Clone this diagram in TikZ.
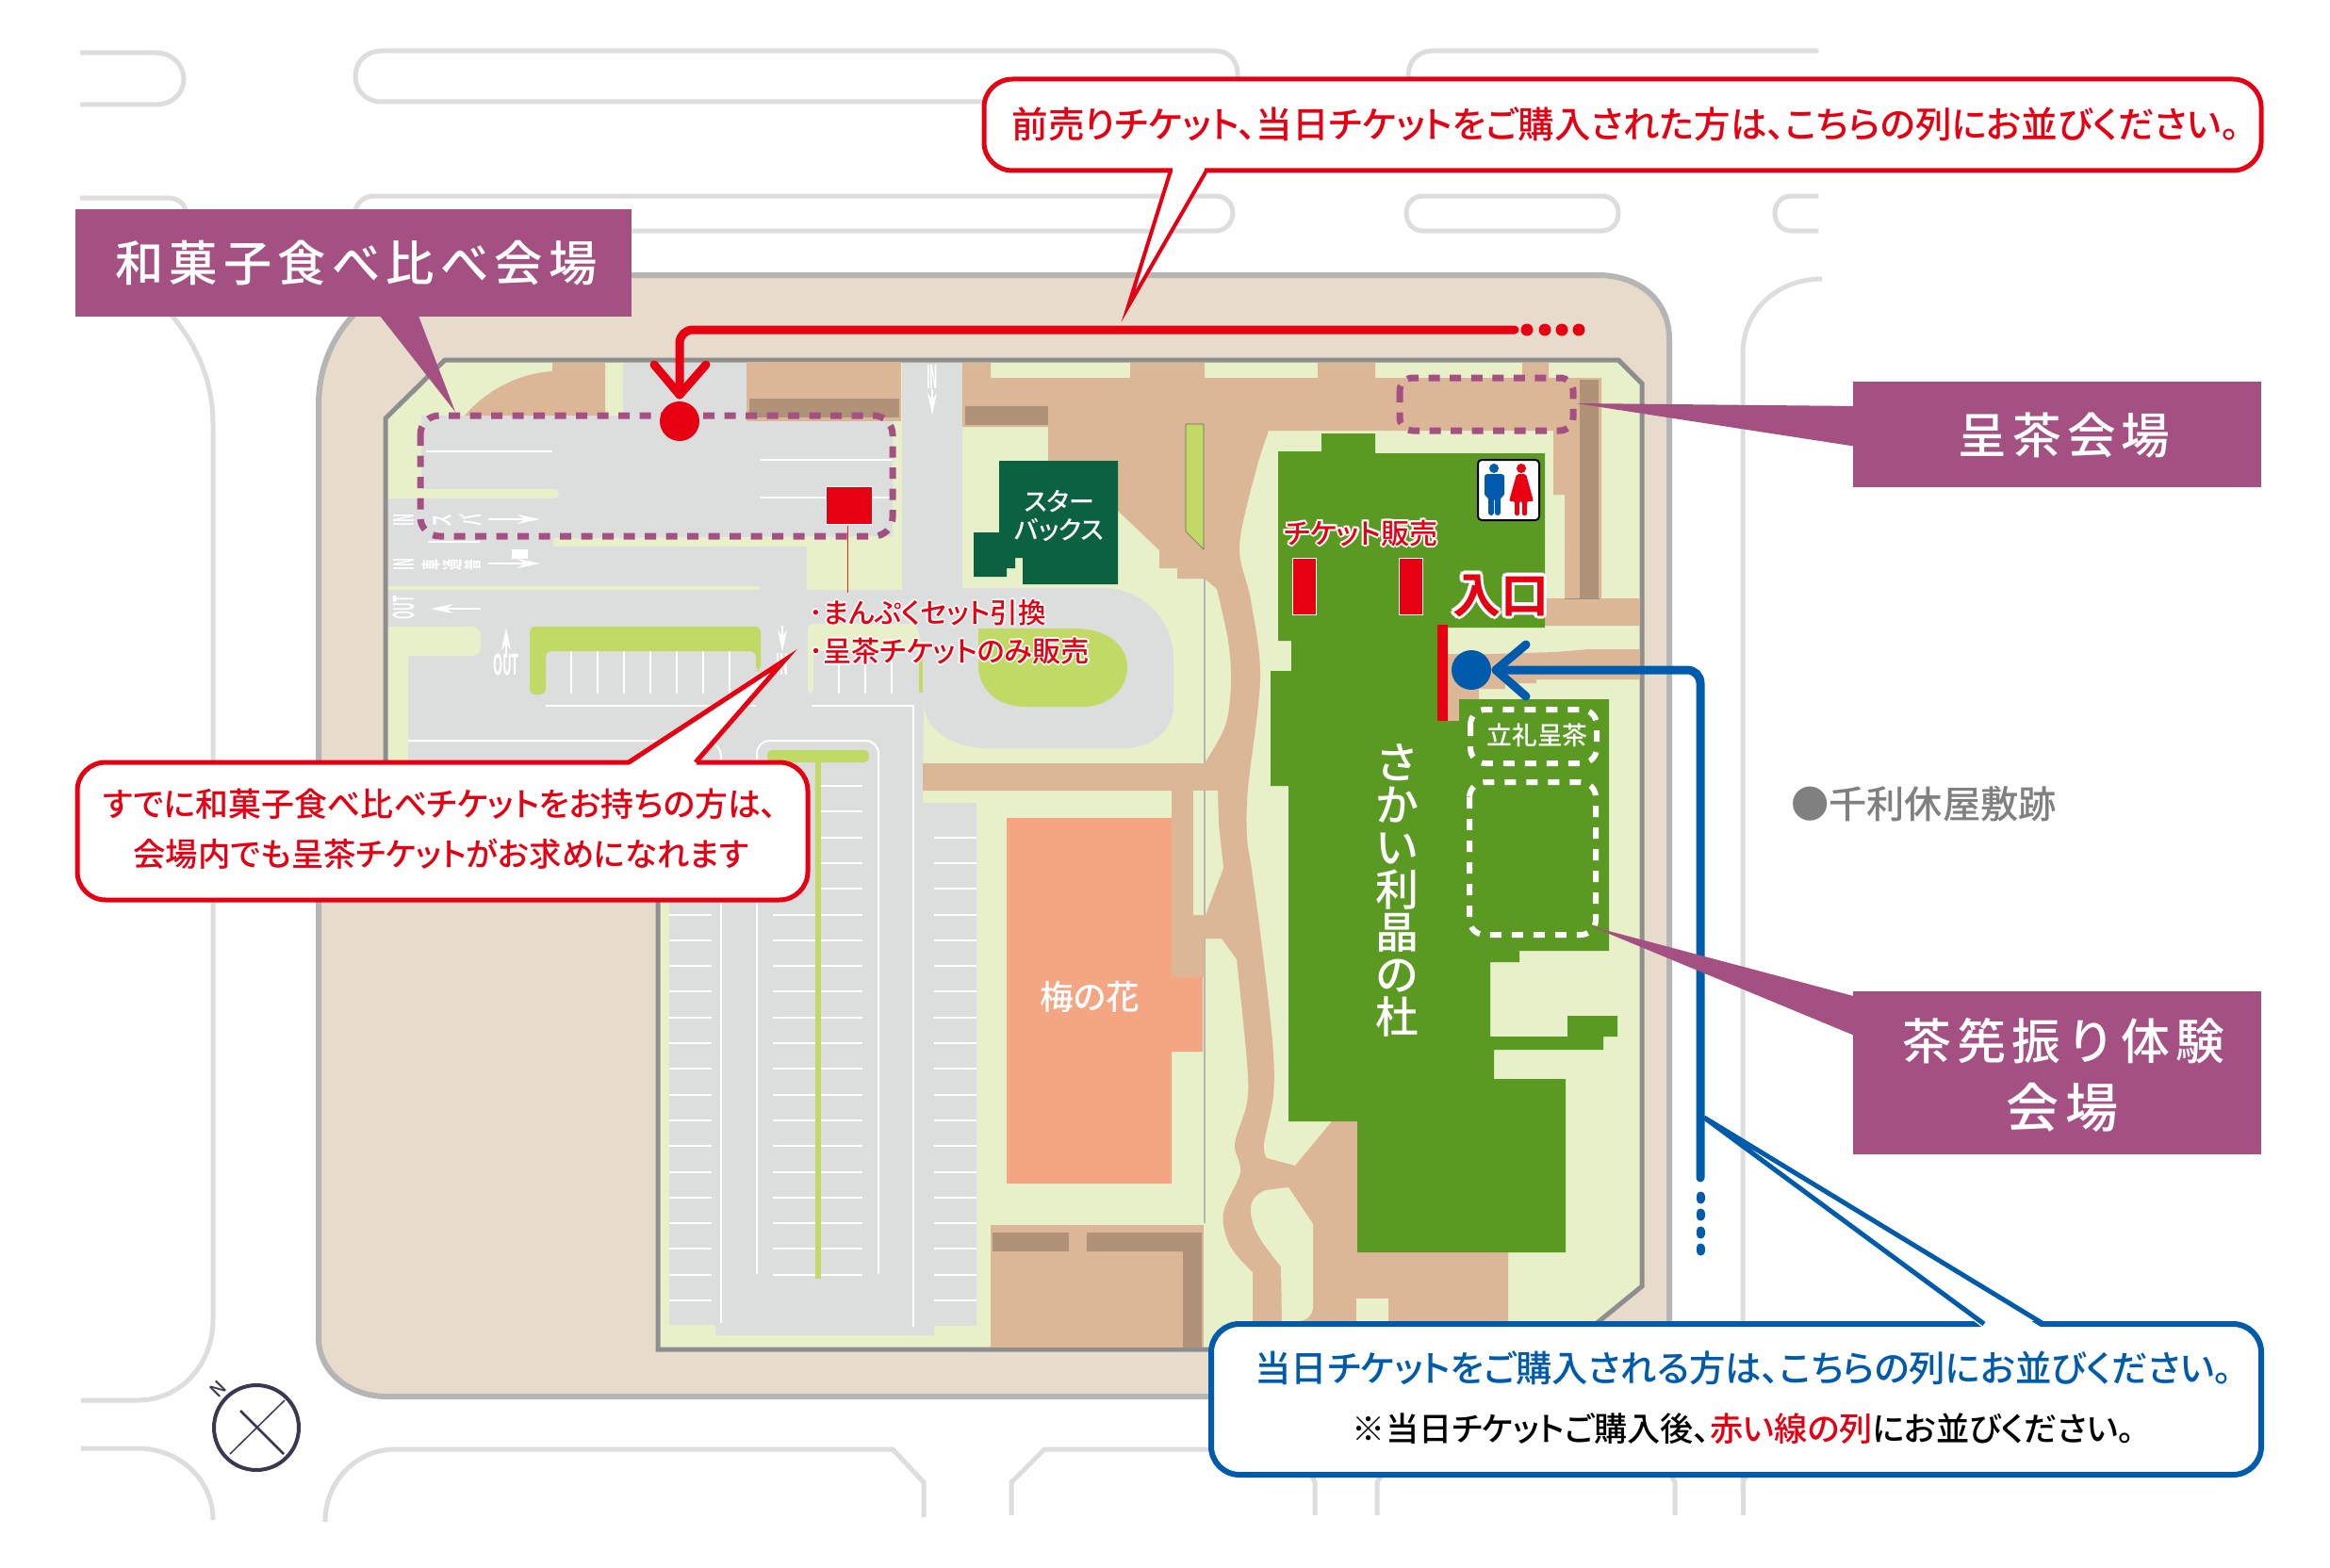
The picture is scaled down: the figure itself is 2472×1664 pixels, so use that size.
\documentclass[tikz,border=0pt]{standalone}
\usepackage{fontspec}
\usetikzlibrary{arrows.meta}
\setmainfont{Noto Sans CJK JP Medium}[RawFeature={+palt},BoldFont={Noto Sans CJK JP Bold}]
\newfontfamily\jpf{Noto Sans CJK JP Medium}
\newfontfamily\jpw{Noto Sans CJK JP Medium}[LetterSpace=12]
\definecolor{beige}{HTML}{E7DBCB}
\definecolor{outerg}{HTML}{B5B5B5}
\definecolor{siteg}{HTML}{8E8E8E}
\definecolor{lgreen}{HTML}{E8F0C9}
\definecolor{road}{HTML}{DCDDDD}
\definecolor{tan}{HTML}{DCB797}
\definecolor{dtan}{HTML}{AF9278}
\definecolor{bgreen}{HTML}{C1DA66}
\definecolor{bldg}{HTML}{5B9A22}
\definecolor{sbux}{HTML}{0B6241}
\definecolor{ume}{HTML}{F4A582}
\definecolor{rd}{HTML}{E60012}
\definecolor{bl}{HTML}{005BAC}
\definecolor{pur}{HTML}{A55083}
\definecolor{ctx}{HTML}{DDDDDD}
\definecolor{cmp}{HTML}{3A3850}
\newcommand\tw[3]{\resizebox{#1pt}{!}{\fontsize{#2}{#2}\selectfont #3}}
\newcommand\wh[3]{\resizebox*{#1pt}{#2pt}{\fontsize{24}{24}\selectfont\bfseries #3}}
\newcommand\cpy[3]{\rlap{\hspace*{#1}\raisebox{#2}{#3}}}
\newcommand\olt[2]{\mbox{\textcolor{white}{%
 \cpy{-#1pt}{0pt}{#2}\cpy{#1pt}{0pt}{#2}\cpy{0pt}{-#1pt}{#2}\cpy{0pt}{#1pt}{#2}%
 \cpy{\dimexpr-#1pt*7/10\relax}{\dimexpr-#1pt*7/10\relax}{#2}%
 \cpy{\dimexpr#1pt*7/10\relax}{\dimexpr-#1pt*7/10\relax}{#2}%
 \cpy{\dimexpr-#1pt*7/10\relax}{\dimexpr#1pt*7/10\relax}{#2}%
 \cpy{\dimexpr#1pt*7/10\relax}{\dimexpr#1pt*7/10\relax}{#2}}#2}}
\tikzset{
 ctxline/.style={draw=ctx,line width=5pt},
 wl/.style={draw=white,line width=2pt},
 paint/.style={text=white,inner sep=0pt},
 wa/.style={draw=white,line width=2.5pt,-{Stealth[length=24pt,width=10pt]}},
 txt/.style={inner sep=0pt},
 purbox/.style={fill=pur,draw=none},
 pdash/.style={draw=pur,line width=7pt,dash pattern=on 12pt off 10.5pt,rounded corners=20pt},
 wdash/.style={draw=white,line width=6pt,dash pattern=on 12pt off 11pt,rounded corners=16pt},
 redcall/.style={draw=rd,line width=5pt,fill=white,rounded corners=30pt},
 bluecall/.style={draw=bl,line width=6pt,fill=white,rounded corners=30pt},
 redroute/.style={draw=rd,line width=9pt,line cap=round,line join=round},
 blueroute/.style={draw=bl,line width=9pt,line cap=round,line join=round},
}
\begin{document}
\begin{tikzpicture}[x=1pt,y=-1pt]
\useasboundingbox (0,0) rectangle (2472,1664);
\fill[white] (0,0) rectangle (2472,1664);
% surrounding roads
\draw[ctxline] (85,56) -- (165,56) .. controls (184,56) and (195,70) .. (195,84) .. controls (195,98) and (184,111) .. (165,111) -- (85,111);
\draw[ctxline] (1313,90) -- (1313,78) .. controls (1313,64) and (1303,54) .. (1290,54) -- (405,54) .. controls (388,54) and (377,66) .. (377,81) .. controls (377,96) and (388,108) .. (405,108) -- (1050,108);
\draw[ctxline] (1494,90) -- (1494,80) .. controls (1494,65) and (1505,54) .. (1519,54) -- (1929,54);
\draw[ctxline] (85,210) -- (178,210) .. controls (188,210) and (197,216) .. (197,226);
\draw[ctxline] (377,226) .. controls (377,216) and (386,208) .. (397,208) -- (1290,208) .. controls (1300,208) and (1308,216) .. (1308,226) .. controls (1308,236) and (1300,245) .. (1290,245) -- (660,245);
\draw[ctxline] (1510,208) -- (1699,208) .. controls (1710,208) and (1717,216) .. (1717,226) .. controls (1717,237) and (1710,245) .. (1699,245) -- (1510,245) .. controls (1499,245) and (1492,237) .. (1492,226) .. controls (1492,216) and (1499,208) .. (1510,208) -- cycle;
\draw[ctxline] (1929,208) -- (1901,208) .. controls (1890,208) and (1883,216) .. (1883,226) .. controls (1883,237) and (1890,245) .. (1901,245) -- (1929,245);
\draw[ctxline] (178,330) .. controls (205,360) and (226,400) .. (226,450) -- (226,1400) .. controls (226,1450) and (190,1486) .. (146,1486) -- (86,1486);
\draw[ctxline] (1933,296) .. controls (1885,296) and (1849,330) .. (1849,375) -- (1849,1573) -- (1856,1560);
\draw[ctxline] (86,1537) -- (146,1537) .. controls (190,1537) and (226,1570) .. (226,1613);
\draw[ctxline] (345,1615) .. controls (345,1570) and (380,1538) .. (419,1538) -- (947,1538) -- (980,1573) -- (980,1610);
\draw[ctxline] (1073,1608) -- (1073,1573) -- (1108,1538) -- (1300,1538);
\draw[ctxline] (1395,1608) -- (1395,1573) -- (1389,1560);
\draw[ctxline] (1461,1608) -- (1461,1573) -- (1469,1560);
\draw[ctxline] (1777,1608) -- (1777,1573) -- (1770,1560);
\draw[ctxline] (1849,1608) -- (1849,1560);
% sidewalk
\draw[fill=beige,draw=outerg,line width=6pt] (475,292) -- (1695,292) .. controls (1738,292) and (1771,318) .. (1771,360) -- (1771,1420) .. controls (1771,1455) and (1740,1482) .. (1700,1482) -- (410,1482) .. controls (370,1482) and (338,1455) .. (338,1420) -- (338,430) .. controls (338,350) and (400,292) .. (475,292) -- cycle;
% site
\draw[fill=lgreen,draw=siteg,line width=5pt] (472,382) -- (1717,382) -- (1742,407) -- (1742,1365) -- (1660,1432) -- (698,1432) -- (698,900) -- (409,900) -- (409,444) -- cycle;
% roads
\fill[road] (447,441) -- (661,441) -- (661,385) -- (792,385) -- (792,447) -- (947,447) -- (947,569) -- (587,571) -- (587,580) -- (856,580) -- (856,626) -- (957,626) -- (957,385) -- (1021,385) -- (1021,624) -- (1168,624) .. controls (1215,624) and (1245,660) .. (1245,700) -- (1245,750) .. controls (1245,775) and (1220,794) .. (1194,794) -- (1050,794) .. controls (1010,794) and (980,775) .. (980,744) -- (979,852) -- (1036,852) -- (1036,1407) -- (991,1407) -- (991,1417) -- (759,1417) -- (759,1406) -- (710,1406) -- (710,890) -- (412,890) -- (412,529) -- (447,529) -- cycle;
\fill[lgreen,rounded corners=5pt] (454,519) -- (593,519) -- (593,529) -- (440,529) -- (440,519) -- cycle;
\fill[lgreen] (412,622) rectangle (806,626);
\fill[lgreen] (412,665) -- (500,665) .. controls (506,665) and (510,669) .. (510,675) -- (510,688) .. controls (510,692) and (506,696) .. (500,696) -- (433,696) -- (433,890) -- (412,890) -- cycle;
\fill[lgreen,rounded corners=6pt] (857,737) -- (857,662) -- (972,662) -- (980,690) -- (863,691) -- (863,737) -- cycle;
\fill[bgreen] (975,691) rectangle (979,735);
\fill[bgreen,rounded corners=6pt] (579,737) -- (562,737) -- (562,665) -- (807,665) -- (807,712) -- (802,712) -- (802,691) -- (579,691) -- cycle;
\fill[bgreen] (1038,667) -- (1140,667) .. controls (1175,667) and (1196,685) .. (1196,708) .. controls (1196,732) and (1175,750) .. (1150,750) -- (1090,750) .. controls (1055,750) and (1038,730) .. (1038,705) -- cycle;
\fill[bgreen,rounded corners=5pt] (814,809) -- (814,796) -- (922,796) -- (922,809) -- cycle;
\fill[bgreen] (865,805) rectangle (871,1357);
% road lines
\foreach \x in {606,634,662,690,718,746,774,890,918,946}{\draw[wl] (\x,691) -- (\x,736);}
\draw[wl] (452,479) -- (586,479);
\draw[wl] (807,488) -- (947,488);
\draw[wl] (807,528) -- (947,528);
\draw[wl] (454,575) -- (509,575);
\draw[wl] (579,749) -- (802,749);
\draw[wl] (861,749) -- (969,749) -- (969,1408);
\draw[wl] (433,786) -- (745,786) .. controls (757,786) and (765,792) .. (765,804) -- (765,1404);
\draw[wl] (803,1352) -- (803,800) .. controls (803,792) and (809,786) .. (817,786) -- (918,786) .. controls (926,786) and (932,792) .. (932,800) -- (932,1352);
\foreach \i in {0,...,19}{\draw[wl] (871,834+27.3*\i) -- (915,834+27.3*\i);}
\foreach \i in {5,...,19}{\draw[wl] (820,834+27.3*\i) -- (865,834+27.3*\i);}
\foreach \i in {2,...,20}{\draw[wl] (991,834+27.3*\i) -- (1036,834+27.3*\i);}
\foreach \i in {5,...,20}{\draw[wl] (710,834+27.3*\i) -- (755,834+27.3*\i);}
% road paint
\node[paint,rotate=90] (inA) at (428,552) {\wh{13}{22}{IN}};
\node[paint,rotate=90] (busA) at (470,552) {\wh{13}{20}{ス}};
\node[paint,rotate=90] (busB) at (499,552) {\wh{13}{24}{バ}};
\coordinate (arAs) at (518,551); \coordinate (arAe) at (573,551);
\draw[wa] (arAs) -- (arAe);
\node[paint,rotate=90] (inB) at (428,599) {\wh{13}{22}{IN}};
\node[paint,rotate=90] (carA) at (457,599) {\wh{12}{20}{車}};
\node[paint,rotate=90] (carB) at (480,599) {\wh{12}{20}{通}};
\node[paint,rotate=90] (carC) at (501,599) {\wh{12}{18}{普}};
\coordinate (arBs) at (518,598); \coordinate (arBe) at (573,598);
\draw[wa] (arBs) -- (arBe);
\fill[white] (543,583) rectangle (560,593);
\node[paint,rotate=90] (outA) at (428,645) {\wh{25}{23}{OUT}};
\coordinate (arCs) at (510,646); \coordinate (arCe) at (457,646);
\draw[wa] (arCs) -- (arCe);
\coordinate (arDs) at (537,698); \coordinate (arDe) at (537,666);
\draw[wa] (arDs) -- (arDe);
\node[paint] (outB) at (537,705) {\wh{28}{23}{OUT}};
\coordinate (arEs) at (830,664); \coordinate (arEe) at (830,692);
\draw[wa] (arEs) -- (arEe);
\node[paint] (inC) at (830,705) {\wh{13}{23}{IN}};
\node[paint] (inD) at (989,400) {\wh{12}{25}{IN}};
\coordinate (arFs) at (989,413); \coordinate (arFe) at (989,441);
\draw[wa] (arFs) -- (arFe);
% thin divider lines
\draw[outerg,line width=2pt] (1278,614) -- (1278,1298);
% tan paths
\fill[tan] (586,385) -- (642,385) -- (642,441) -- (493,441) .. controls (515,415) and (550,396) .. (586,394) -- cycle;
\fill[tan] (792,384) rectangle (956,447);
\fill[dtan] (795,423) rectangle (954,443);
\fill[tan] (1021,385) -- (1051,385) -- (1051,401) -- (1199,401) -- (1199,385) -- (1278,385) -- (1278,401) -- (1398,401) -- (1398,385) -- (1459,385) -- (1459,401) -- (1615,401) -- (1615,385) -- (1643,385) -- (1643,401) -- (1699,401) -- (1699,635) -- (1740,635) -- (1740,664) -- (1639,664) -- (1639,635) -- (1660,635) -- (1660,525) -- (1648,525) -- (1648,457) -- (1346,457)
 -- plot[smooth,tension=0.55] coordinates {(1346,457) (1332,501) (1315,580) (1327,637) (1337,719) (1324,837) (1323,888) (1328,923) (1338,997) (1350,1105) (1351,1162) (1341,1214) (1344,1229)}
 -- (1374,1237) -- (1413,1190) -- (1440,1190) -- (1440,1329) -- (1600,1329) -- (1600,1425) -- (1329,1425) -- (1329,1350)
 -- plot[smooth,tension=0.55] coordinates {(1329,1350) (1305,1322) (1298,1287) (1316,1244) (1310,1214) (1323,1170) (1323,1127) (1312,1018)}
 -- (1296,996) -- (1278,996) -- (1278,1037) -- (1243,1037) -- (1243,839) -- (979,839) -- (979,810) -- (1278,810)
 -- plot[smooth,tension=0.55] coordinates {(1278,810) (1300,770) (1306,725) (1303,680) (1291,625)}
 -- (1278,614) -- (1249,614) -- (1249,603) -- (1230,603) -- (1230,584) -- (1186,542) -- (1112,489) -- (1112,453) -- (1021,453) -- cycle;
% islands in the paths
\fill[lgreen] (1266,839) -- (1292,839) -- (1293,875) -- (1298,921) -- (1279,971) -- (1266,971) -- cycle;
\draw[outerg,line width=2pt] (1278,839) -- (1278,971);
\fill[lgreen] (1343,1263) -- (1367,1260) -- (1393,1299) -- (1393,1387) .. controls (1393,1396) and (1385,1402) .. (1378,1402) -- (1360,1402) -- (1359,1344) .. controls (1340,1320) and (1327,1305) .. (1327,1283) .. controls (1327,1272) and (1335,1266) .. (1343,1263) -- cycle;
\fill[lgreen] (1439,1378) rectangle (1473,1430);
\fill[tan] (1536,694) -- (1582,694) -- (1650,692) -- (1686,689) -- (1740,689) -- (1740,721) -- (1630,721) -- (1630,725) -- (1597,725) -- (1597,731) -- (1569,731) -- (1569,742) -- (1548,742) -- (1548,770) -- (1536,770) -- cycle;
\fill[dtan] (1024,431) rectangle (1112,451);
\fill[dtan] (1676,403) rectangle (1696,635);
\draw[siteg,line width=1pt] (1660,635) -- (1697,635);
\draw[fill=bgreen,draw=black!60,line width=.6pt] (1258,450) -- (1277,450) -- (1277,583) -- (1258,564) -- cycle;
% bottom building
\fill[tan] (1051,1300) rectangle (1277,1430);
\fill[dtan] (1053,1308) rectangle (1134,1328);
\fill[dtan] (1153,1308) -- (1275,1308) -- (1275,1430) -- (1255,1430) -- (1255,1328) -- (1153,1328) -- cycle;
% ume no hana
\fill[ume] (1068,868) -- (1243,868) -- (1243,1037) -- (1276,1037) -- (1276,1116) -- (1243,1116) -- (1243,1256) -- (1068,1256) -- cycle;
\node[txt,text=white] (umeL) at (1156,1058) {\tw{106}{35}{梅の花}};
% starbucks
\fill[sbux] (1060,489) -- (1186,489) -- (1186,620) -- (1085,620) -- (1085,592) -- (1077,592) -- (1077,603) -- (1068,603) -- (1068,612) -- (1033,612) -- (1033,565) -- (1060,565) -- cycle;
\node[txt,text=white,align=center,font=\fontsize{27}{30}\selectfont] (sbuxL) at (1124,547) {スター\\バックス};
% main building
\fill[bldg] (1356,479) -- (1402,479) -- (1402,460) -- (1459,460) -- (1459,481) -- (1639,481) -- (1639,666) -- (1536,666) -- (1536,765) -- (1548,765) -- (1548,742) -- (1707,742) -- (1707,1009) -- (1612,1009) -- (1612,1021) -- (1581,1021) -- (1581,1100) -- (1663,1100) -- (1663,1078) -- (1716,1078) -- (1716,1100) -- (1701,1100) -- (1701,1114) -- (1585,1114) -- (1585,1145) -- (1661,1145) -- (1661,1329) -- (1440,1329) -- (1440,1190) -- (1367,1190) -- (1367,834) -- (1348,834) -- (1348,712) -- (1370,712) -- (1370,680) -- (1356,680) -- cycle;
\node[txt,text=white,align=center,font=\jpf\fontsize{46}{45}\selectfont] (bldgL) at (1482,945) {さ\\か\\い\\利\\晶\\の\\杜};
% ticket counters
\draw[fill=rd,draw=white,line width=1pt] (1371,592) rectangle (1396,652);
\draw[fill=rd,draw=white,line width=1pt] (1484,592) rectangle (1509,652);
\node[txt,text=rd] (ticketL) at (1444,566) {\tw{163}{28}{\olt{2}{チケット販売}}};
\node[txt,text=rd] (entryL) at (1592,632) {\tw{102}{50}{\olt{3}{\bfseries 入口}}};
\fill[rd] (1525,663) rectangle (1536,765);
% toilet icon
\draw[fill=white,draw=black,line width=2pt,rounded corners=4pt] (1568,488) rectangle (1633,552);
\fill[bl] (1585,497) circle (5);
\fill[bl,rounded corners=3pt] (1575,503) -- (1596,503) -- (1596,527) -- (1592,527) -- (1592,547) -- (1586,547) -- (1586,528) -- (1585,528) -- (1585,547) -- (1579,547) -- (1579,527) -- (1575,527) -- cycle;
\fill[rd] (1614,497) circle (5);
\fill[rd,rounded corners=2pt] (1609,503) -- (1619,503) -- (1627,532) -- (1620,532) -- (1620,547) -- (1615,547) -- (1615,532) -- (1612,532) -- (1612,547) -- (1607,547) -- (1607,532) -- (1601,532) -- cycle;
% dashed areas
\draw[pdash] (446,441) rectangle (947,569);
\draw[pdash,rounded corners=14pt] (1485,401) rectangle (1669,457);
\draw[wdash] (1560,753) rectangle (1694,810);
\draw[wdash] (1559,830) rectangle (1693,992);
\node[txt,text=white] (standL) at (1631,780) {\tw{107}{27}{立礼呈茶}};
% red square and labels
\draw[fill=rd,draw=white,line width=1pt] (876,516) rectangle (925,556);
\coordinate (leadA) at (899,558); \coordinate (leadB) at (899,629);
\draw[draw=rd!70!orange,line width=1pt] (leadA) -- (leadB);
\node[txt,text=rd,anchor=west] (manpukuL) at (858,650) {\tw{252}{28}{\olt{1.5}{･まんぷくセット引換}}};
\node[txt,text=rd,anchor=west] (teachaL) at (858,691) {\tw{298}{28}{\olt{1.5}{･呈茶チケットのみ販売}}};
% routes
\node[circle,fill=rd,minimum size=42pt,inner sep=0pt] (redDot) at (721,447) {};
\coordinate (redStart) at (1607,350);
\coordinate (redTip) at (721,419);
\draw[redroute,rounded corners=14pt] (redStart) -- (721,350) -- (redTip);
\draw[redroute] (694,387) -- (redTip) -- (749,387);
\foreach \x in {1620,1639,1657,1675}{\fill[rd] (\x,350) circle (6.5);}
\node[circle,fill=bl,minimum size=42pt,inner sep=0pt] (blueDot) at (1561,711) {};
\coordinate (blueTip) at (1587,711);
\coordinate (blueEnd) at (1804,1250);
\draw[blueroute,rounded corners=14pt] (blueTip) -- (1804,711) -- (blueEnd);
\draw[blueroute] (1619,684) -- (blueTip) -- (1619,739);
\foreach \y in {1271,1289,1308,1326}{\draw[blueroute] (1804,\y-2) -- (1804,\y+2);}
% purple tags
\fill[pur] (399,330) -- (442,330) -- (483,437) -- cycle;
\node[purbox,minimum width=590pt,minimum height=114pt,inner sep=0pt] (tagA) at (375,279) {};
\node[txt,text=white] (tagAL) at (378,279) {\tw{511}{50}{\jpw 和菓子食べ比べ会場}};
\fill[pur] (1672,428) -- (1970,431) -- (1970,474) -- cycle;
\node[purbox,minimum width=433pt,minimum height=112pt,inner sep=0pt] (tagB) at (2182.5,461) {};
\node[txt,text=white] (tagBL) at (2190,462) {\tw{225}{50}{\jpw 呈茶会場}};
\fill[pur] (1688,983) -- (1970,1058) -- (1970,1100) -- cycle;
\node[purbox,minimum width=433pt,minimum height=173pt,inner sep=0pt] (tagC) at (2182.5,1138.5) {};
\node[txt,text=white] (tagCL1) at (2189,1105) {\tw{342}{50}{\jpw 茶筅振り体験}};
\node[txt,text=white] (tagCL2) at (2188,1175) {\tw{119}{50}{\jpw 会場}};
% callouts
\draw[redcall] (1044,84) rectangle (2399,181);
\fill[white] (1242,185) -- (1197,325) -- (1280,185) -- cycle;
\fill[white] (1244,176) rectangle (1278,186);
\draw[rd,line width=4pt,miter limit=20] (1242,181) -- (1197,325) -- (1280,181);
\node[txt,text=rd] (callTop) at (1725,132) {\tw{1302}{36}{前売りチケット、当日チケットをご購入された方は、こちらの列にお並びください。}};
\draw[redcall] (82,809) rectangle (857,955);
\fill[white] (667,812) -- (832,701) -- (738,812) -- cycle;
\draw[rd,line width=5pt,miter limit=20] (667,809) -- (832,701) -- (738,809);
\node[txt,text=rd] (callL1) at (467,853) {\tw{715}{36}{すでに和菓子食べ比べチケットをお持ちの方は、}};
\node[txt,text=rd] (callL2) at (468,906) {\tw{653}{36}{会場内でも呈茶チケットがお求めになれます}};
\draw[bluecall] (1285,1405) rectangle (2399,1565);
\fill[white] (2105,1410) -- (1808,1186) -- (2168,1410) -- cycle;
\draw[bl,line width=5pt,miter limit=20] (2105,1405) -- (1808,1186) -- (2168,1405);
\node[txt,text=bl] (callB1) at (1850,1452) {\tw{1037}{36}{当日チケットをご購入される方は、こちらの列にお並びください。}};
\node[txt,text=black] (callB2) at (1850,1516) {\tw{830}{32}{※当日チケットご購入後、\textcolor{rd}{赤い線の列}にお並びください。}};
% rikyu site
\node[txt,text=black!50] (rikyu) at (2041,853) {\tw{282}{40}{\jpf ●千利休屋敷跡}};
% compass
\draw[cmp,line width=4pt] (272,1515) circle (45);
\draw[cmp,line width=1.5pt] (244,1543) -- (302,1486);
\draw[cmp,line width=2.5pt] (255,1497) -- (301,1543);
\node[txt,text=cmp,rotate=45] (north) at (231,1474) {\fontsize{20}{20}\selectfont\itshape N};
\end{tikzpicture}
\end{document}
